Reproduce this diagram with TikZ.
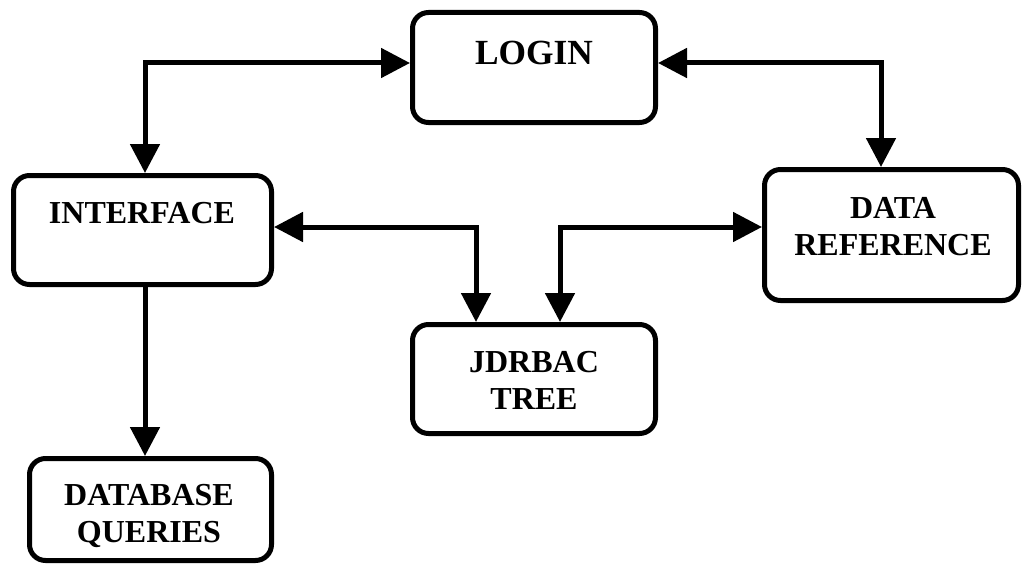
\documentclass[tikz,border=0pt]{standalone}
\usepackage{fontspec}
\setmainfont{Liberation Serif}
\usetikzlibrary{arrows.meta}
\tikzset{
  px/.style={x=0.75pt,y=-0.75pt},
  box/.style={draw,line width=3.75pt,rounded corners=12pt,inner sep=0pt},
  lbl/.style={align=center,inner sep=0pt,text depth=0pt,
    font=\bfseries\fontsize{24}{27.75}\selectfont},
  biglbl/.style={lbl,font=\bfseries\fontsize{26.5}{30}\selectfont},
  conn/.style={line width=3.75pt,
    arrows={-Triangle[length=21.75pt,width=21.75pt]}},
  bconn/.style={line width=3.75pt,
    arrows={Triangle[length=21.75pt,width=21.75pt]-Triangle[length=21.75pt,width=21.75pt]}},
}
\begin{document}
\begin{tikzpicture}[px]
\useasboundingbox (0,0) rectangle (1024,567);
% boxes
\node[box,minimum width=182.25pt,minimum height=82.5pt] (login) at (534,67.5) {};
\node[box,minimum width=193.5pt,minimum height=81.75pt] (interface) at (142.5,230) {};
\node[box,minimum width=190.5pt,minimum height=98.25pt] (dataref) at (891.5,235) {};
\node[box,minimum width=182.25pt,minimum height=81.75pt] (jdrbac) at (534,379) {};
\node[box,minimum width=181.5pt,minimum height=76.5pt] (database) at (150.5,509.5) {};
% labels
\node[biglbl] (login-t) at (534,53) {LOGIN};
\node[lbl] (interface-t) at (142,213) {INTERFACE};
\node[lbl] (dataref-t) at (893,226.5) {DATA\\REFERENCE};
\node[lbl] (jdrbac-t) at (534,380) {JDRBAC\\TREE};
\node[lbl] (database-t) at (149,513.5) {DATABASE\\QUERIES};
% bends of the connectors
\coordinate (c1) at (145,63);
\coordinate (c2) at (881,63);
\coordinate (c3) at (476,227);
\coordinate (c4) at (560,227);
\coordinate (c5) at (145,400);
% connectors
\draw[bconn] (c1 -| login.west) -- (c1) -- (c1 |- interface.north);
\draw[bconn] (c2 -| login.east) -- (c2) -- (c2 |- dataref.north);
\draw[bconn] (c3 -| interface.east) -- (c3) -- (c3 |- jdrbac.north);
\draw[bconn] (c4 -| dataref.west) -- (c4) -- (c4 |- jdrbac.north);
\draw[conn] (c5 |- interface.south) -- (c5 |- database.north);
\end{tikzpicture}
\end{document}
